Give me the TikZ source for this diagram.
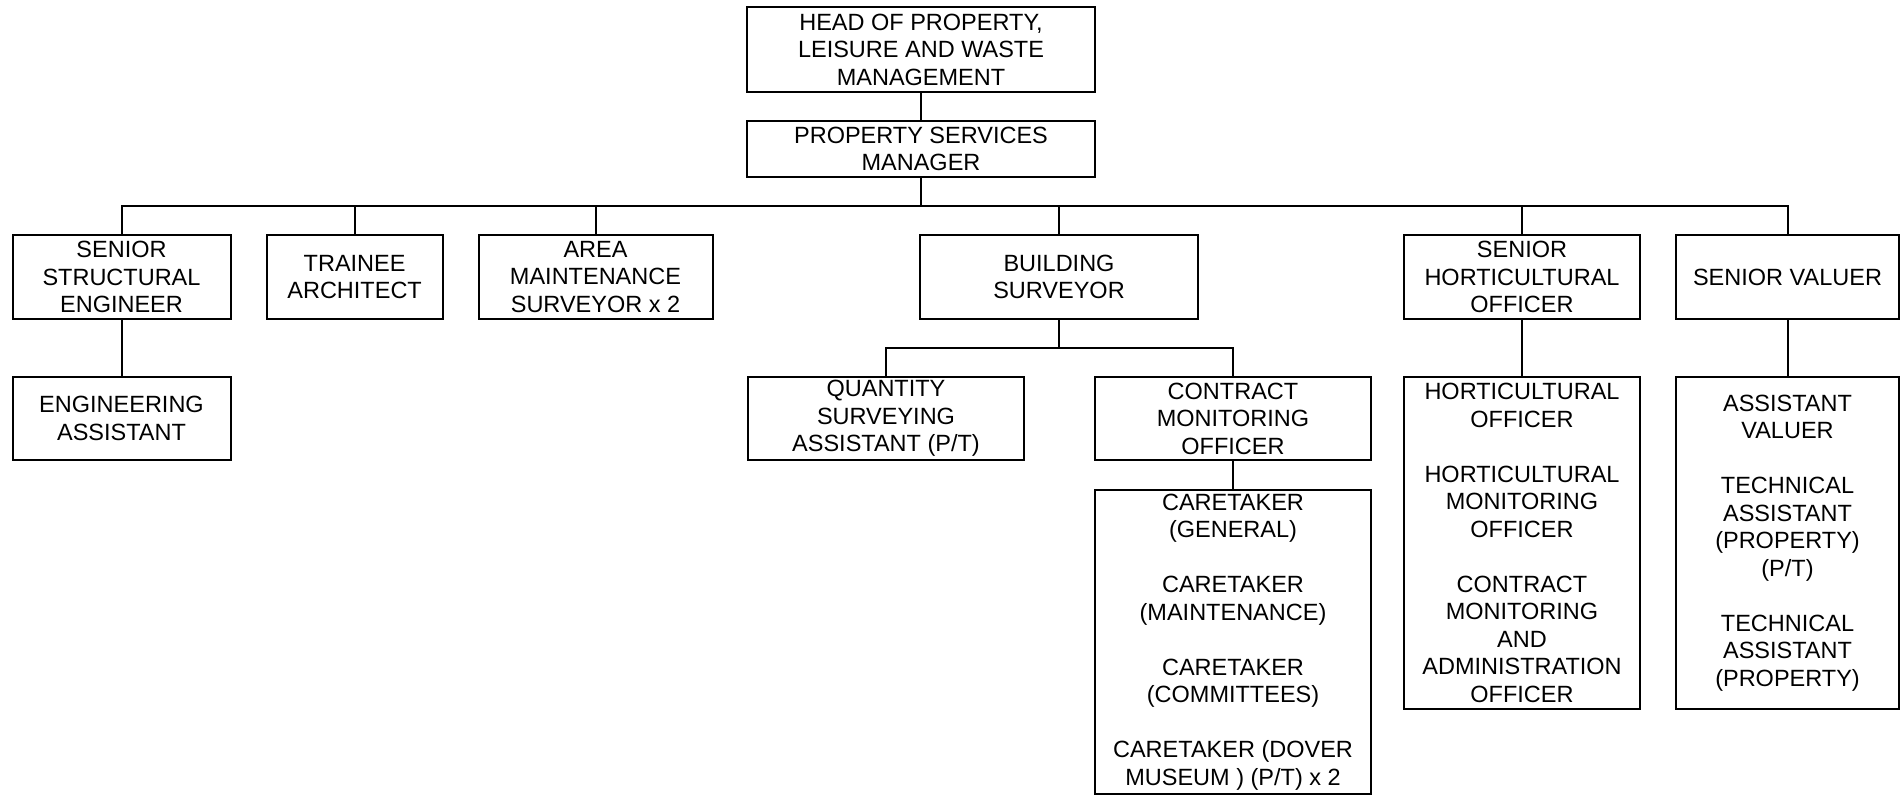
\documentclass[tikz,border=0pt]{standalone}
\usepackage{fontspec}
\setmainfont{Liberation Sans}
\begin{document}
\begin{tikzpicture}[x=1pt,y=-1pt,
  box/.style={draw, line width=2pt, inner sep=0pt, outer sep=0pt, align=center,
    font=\fontsize{23.5}{27.5}\selectfont},
  conn/.style={line width=2pt}]
\useasboundingbox (0,0) rectangle (1901,795);
% top
\node[box, minimum width=348pt, minimum height=85pt] (head) at (921,49.5)
  {HEAD OF PROPERTY,\\LEISURE AND WASTE\\MANAGEMENT};
\node[box, minimum width=348pt, minimum height=56pt] (psm) at (921,149)
  {PROPERTY SERVICES\\MANAGER};
% level 1
\node[box, minimum width=218pt, minimum height=84pt] (sse) at (121.5,277)
  {SENIOR\\STRUCTURAL\\ENGINEER};
\node[box, minimum width=176pt, minimum height=84pt] (tra) at (354.6,277)
  {TRAINEE\\ARCHITECT};
\node[box, minimum width=234pt, minimum height=84pt] (ams) at (595.5,277)
  {AREA\\MAINTENANCE\\SURVEYOR x 2};
\node[box, minimum width=278pt, minimum height=84pt] (bs) at (1059,277)
  {BUILDING\\SURVEYOR};
\node[box, minimum width=236pt, minimum height=84pt] (sho) at (1522,277)
  {SENIOR\\HORTICULTURAL\\OFFICER};
\node[box, minimum width=223pt, minimum height=84pt] (sv) at (1787.5,277)
  {SENIOR VALUER};
% level 2
\node[box, minimum width=218pt, minimum height=83pt] (ea) at (121.5,418.5)
  {ENGINEERING\\ASSISTANT};
\node[box, minimum width=276pt, minimum height=83pt] (qsa) at (886,418.5)
  {QUANTITY\\SURVEYING\\ASSISTANT (P/T)};
\node[box, minimum width=276pt, minimum height=83pt] (cmo) at (1233,418.5)
  {CONTRACT\\MONITORING\\OFFICER};
\node[box, minimum width=236pt, minimum height=332pt] (hc) at (1522,543)
  {HORTICULTURAL\\OFFICER\\[27.5pt]HORTICULTURAL\\MONITORING\\OFFICER\\[27.5pt]CONTRACT\\MONITORING\\AND\\ADMINISTRATION\\OFFICER};
\node[box, minimum width=223pt, minimum height=332pt] (svc) at (1787.5,543)
  {ASSISTANT\\VALUER\\[27.5pt]TECHNICAL\\ASSISTANT\\(PROPERTY)\\(P/T)\\[27.5pt]TECHNICAL\\ASSISTANT\\(PROPERTY)};
% level 3
\node[box, minimum width=276pt, minimum height=304pt] (care) at (1233,642)
  {CARETAKER\\(GENERAL)\\[27.5pt]CARETAKER\\(MAINTENANCE)\\[27.5pt]CARETAKER\\(COMMITTEES)\\[27.5pt]CARETAKER (DOVER\\MUSEUM ) (P/T) x 2};
% connectors
\coordinate (bus) at (921,206);
\coordinate (bsbus) at (1059,348);
\draw[conn] (head.south) -- (psm.north);
\draw[conn] (psm.south) -- (bus);
\foreach \c in {sse,tra,ams,bs,sho,sv} \draw[conn] (bus) -| (\c.north);
\draw[conn] (sse.south) -- (ea.north);
\draw[conn] (bs.south) -- (bsbus);
\draw[conn] (bsbus) -| (qsa.north);
\draw[conn] (bsbus) -| (cmo.north);
\draw[conn] (cmo.south) -- (care.north);
\draw[conn] (sho.south) -- (hc.north);
\draw[conn] (sv.south) -- (svc.north);
\end{tikzpicture}
\end{document}
